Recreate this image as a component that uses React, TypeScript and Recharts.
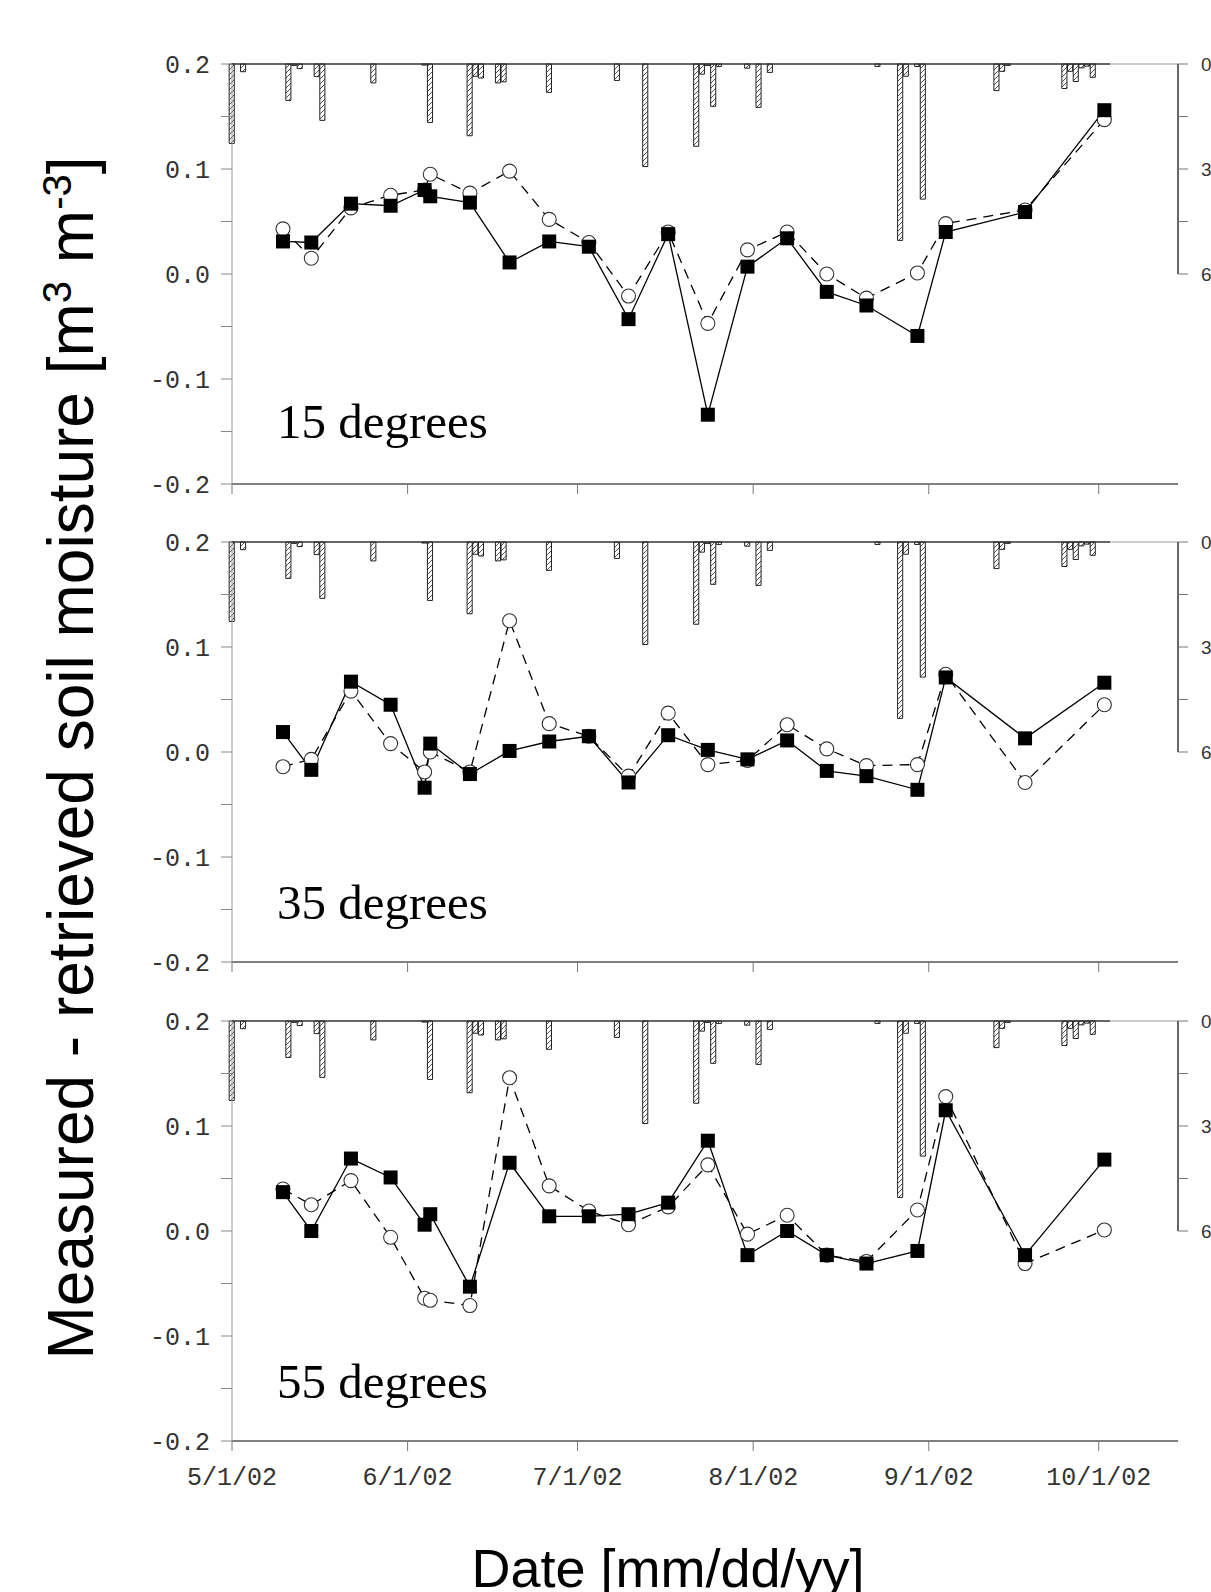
import React from "react";
import { ComposedChart, Bar, Line, XAxis, YAxis, ReferenceLine } from "recharts";

// days since 5/1/02
const dateTicks = [0, 31, 61, 92, 123, 153];
const dateLabels = ["5/1/02", "6/1/02", "7/1/02", "8/1/02", "9/1/02", "10/1/02"];

// precipitation (right axis, hanging bars)
const rainDays = [0, 2, 10, 11, 12, 15, 16, 25, 34, 35, 42, 43, 44, 47, 48, 56, 68, 73, 82, 83, 84, 85, 86, 91, 93, 95, 114, 118, 119, 121, 122, 135, 136, 137, 147, 148, 149, 150, 151, 152];
const rainMm = [22.7, 2.2, 10.4, 0.4, 1.3, 3.6, 16.1, 5.4, 0.3, 16.7, 20.5, 3.5, 4.0, 5.4, 5.1, 8.1, 4.7, 29.3, 23.5, 2.9, 0.4, 12.1, 0.7, 1.2, 12.4, 2.4, 0.7, 50.4, 3.5, 0.7, 38.6, 7.6, 2.1, 0.4, 7.0, 2.1, 5.0, 1.1, 0.6, 3.8];

// sampling dates of the soil moisture differences
const obsDays = [9, 14, 21, 28, 34, 35, 42, 49, 56, 63, 70, 77, 84, 91, 98, 105, 112, 121, 126, 140, 154];

const square15 = [0.031, 0.030, 0.067, 0.065, 0.080, 0.074, 0.068, 0.011, 0.031, 0.026, -0.043, 0.038, -0.134, 0.007, 0.034, -0.017, -0.030, -0.059, 0.040, 0.059, 0.156];
const circle15 = [0.043, 0.015, 0.063, 0.075, 0.080, 0.095, 0.077, 0.098, 0.052, 0.030, -0.021, 0.040, -0.047, 0.023, 0.040, 0.000, -0.023, 0.001, 0.048, 0.061, 0.147];

const square35 = [0.019, -0.017, 0.067, 0.045, -0.034, 0.008, -0.021, 0.001, 0.010, 0.015, -0.029, 0.016, 0.002, -0.007, 0.011, -0.018, -0.023, -0.036, 0.071, 0.013, 0.066];
const circle35 = [-0.014, -0.007, 0.058, 0.008, -0.019, 0.000, -0.019, 0.125, 0.027, 0.015, -0.023, 0.037, -0.012, -0.008, 0.026, 0.003, -0.013, -0.012, 0.074, -0.029, 0.045];

const square55 = [0.037, 0.000, 0.069, 0.051, 0.006, 0.016, -0.053, 0.065, 0.014, 0.014, 0.016, 0.027, 0.086, -0.023, 0.000, -0.023, -0.031, -0.019, 0.115, -0.023, 0.068];
const circle55 = [0.040, 0.025, 0.048, -0.006, -0.064, -0.066, -0.071, 0.146, 0.043, 0.019, 0.006, 0.023, 0.063, -0.003, 0.015, -0.023, -0.029, 0.020, 0.128, -0.031, 0.001];

const leftTicks = [-0.2, -0.15, -0.1, -0.05, 0, 0.05, 0.1, 0.15, 0.2];
const rightTicks = [0, 15, 30, 45, 60];

const monoFont = "'Liberation Mono', 'Courier New', monospace";

function buildRows(sq: number[], ci: number[]) {
  const days = Array.from(new Set([...rainDays, ...obsDays])).sort((a, b) => a - b);
  return days.map((d) => {
    const ri = rainDays.indexOf(d);
    const oi = obsDays.indexOf(d);
    return {
      day: d,
      rain: ri >= 0 ? rainMm[ri] : null,
      sq: oi >= 0 ? sq[oi] : null,
      ci: oi >= 0 ? ci[oi] : null,
    };
  });
}

const SquareDot = (p: any) => {
  if (p.cx == null || p.cy == null || p.value == null) return <g key={`s${p.index}`} />;
  return <rect key={`s${p.index}`} x={p.cx - 7} y={p.cy - 7} width={14} height={14} fill="#000" />;
};

const CircleDot = (p: any) => {
  if (p.cx == null || p.cy == null || p.value == null) return <g key={`c${p.index}`} />;
  return <circle key={`c${p.index}`} cx={p.cx} cy={p.cy} r={7} fill="#fff" stroke="#333" strokeWidth={1.1} />;
};

function leftFmt(v: number) {
  const t = v * 10;
  return Math.abs(Math.round(t) - t) < 1e-6 ? v.toFixed(1) : "";
}

function Panel({ id, top, sq, ci, showDates }: { id: string; top: number; sq: number[]; ci: number[]; showDates: boolean }) {
  const data = buildRows(sq, ci);
  const xh = showDates ? 60 : 20;
  return (
    <div style={{ position: "absolute", left: 0, top }}>
      <ComposedChart width={1211} height={440 + xh} data={data} margin={{ top: 20, right: 0, bottom: 0, left: 0 }}>
        <defs>
          <pattern id={`hatch-${id}`} patternUnits="userSpaceOnUse" width="5" height="5">
            <rect width="5" height="5" fill="#fff" />
            <path d="M-1,1 L1,-1 M0,5 L5,0 M4,6 L6,4" stroke="#444" strokeWidth={0.9} />
          </pattern>
        </defs>
        <XAxis
          dataKey="day"
          type="number"
          domain={[0, 167]}
          ticks={dateTicks}
          interval={0}
          height={xh}
          tickSize={10}
          tickMargin={16}
          stroke="#000"
          tickLine={{ stroke: "#777" }}
          tick={{ fontFamily: monoFont, fontSize: 25, fill: "#333" }}
          tickFormatter={(v: number) => (showDates ? dateLabels[dateTicks.indexOf(v)] ?? "" : "")}
        />
        <YAxis
          yAxisId="sm"
          orientation="left"
          width={232}
          domain={[-0.2, 0.2]}
          ticks={leftTicks}
          interval={0}
          tickSize={11}
          tickMargin={11}
          axisLine={{ stroke: "#999" }}
          tickLine={{ stroke: "#888" }}
          tick={{ fontFamily: monoFont, fontSize: 25, fill: "#333" }}
          tickFormatter={leftFmt}
        />
        <YAxis
          yAxisId="rain"
          orientation="right"
          width={33}
          domain={[0, 120]}
          reversed
          ticks={rightTicks}
          interval={0}
          tickSize={10}
          tickMargin={13}
          axisLine={false}
          tickLine={{ stroke: "#777" }}
          tick={{ fontFamily: "'Liberation Sans', Arial, sans-serif", fontSize: 19, fill: "#333" }}
          tickFormatter={(v: number) => (v % 30 === 0 ? String(v) : "")}
        />
        <ReferenceLine yAxisId="sm" y={0.2} stroke="#999" strokeWidth={1} />
        <Bar
          yAxisId="rain"
          dataKey="rain"
          barSize={6}
          fill={`url(#hatch-${id})`}
          stroke="#222"
          strokeWidth={1}
          isAnimationActive={false}
        />
        <ReferenceLine yAxisId="rain" segment={[{ x: 0, y: 0 }, { x: 155, y: 0 }]} stroke="#000" strokeWidth={1.2} />
        <ReferenceLine yAxisId="rain" segment={[{ x: 167, y: 0 }, { x: 167, y: 60 }]} stroke="#000" strokeWidth={1.2} />
        <Line
          yAxisId="sm"
          dataKey="ci"
          stroke="#000"
          strokeWidth={1.3}
          strokeDasharray="10 7"
          connectNulls
          dot={CircleDot}
          activeDot={false}
          isAnimationActive={false}
        />
        <Line
          yAxisId="sm"
          dataKey="sq"
          stroke="#000"
          strokeWidth={1.3}
          connectNulls
          dot={SquareDot}
          activeDot={false}
          isAnimationActive={false}
        />
      </ComposedChart>
    </div>
  );
}

export default function App() {
  const serif = "'Liberation Serif', 'Times New Roman', serif";
  const sans = "'Liberation Sans', Arial, sans-serif";
  return (
    <div style={{ position: "absolute", left: 0, top: 0, width: 1211, height: 1592, background: "#fff", overflow: "hidden" }}>
      <Panel id="p15" top={44} sq={square15} ci={circle15} showDates={false} />
      <Panel id="p35" top={522} sq={square35} ci={circle35} showDates={false} />
      <Panel id="p55" top={1001} sq={square55} ci={circle55} showDates={true} />
      <svg width={1211} height={1592} style={{ position: "absolute", left: 0, top: 0, pointerEvents: "none" }}>
        <text x={277} y={438} fontFamily={serif} fontSize={49} fill="#000">15 degrees</text>
        <text x={277} y={919} fontFamily={serif} fontSize={49} fill="#000">35 degrees</text>
        <text x={277} y={1398} fontFamily={serif} fontSize={49} fill="#000">55 degrees</text>
        <text transform="translate(93,758) rotate(-90)" textAnchor="middle" fontFamily={sans} fontSize={64} fill="#000">
          Measured - retrieved soil moisture [m<tspan baselineShift="super" fontSize={40}>3</tspan> m<tspan baselineShift="super" fontSize={40}>-3</tspan>]
        </text>
        <text x={668} y={1587} textAnchor="middle" fontFamily={sans} fontSize={54} fill="#000">Date [mm/dd/yy]</text>
      </svg>
    </div>
  );
}
